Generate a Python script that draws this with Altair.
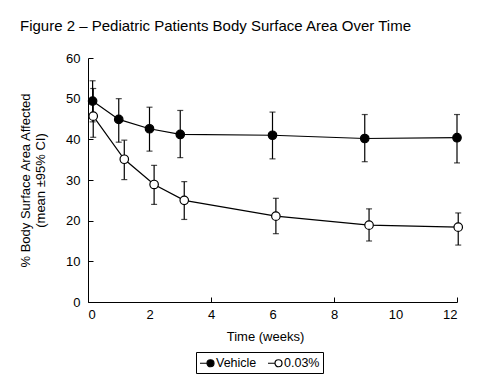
import altair as alt
import pandas as pd

series_names = ["Vehicle", "0.03%"]

weeks_vehicle = [0.15, 1.0, 2.0, 3.0, 6.0, 9.0, 12.0]
mean_vehicle = [49.4, 44.9, 42.6, 41.2, 41.0, 40.2, 40.4]
lo_vehicle = [44.3, 39.3, 37.1, 35.5, 35.2, 34.5, 34.2]
hi_vehicle = [54.4, 50.0, 47.9, 47.1, 46.7, 46.1, 46.1]

weeks_03 = [0.17, 1.18, 2.15, 3.13, 6.11, 9.14, 12.04]
mean_03 = [45.7, 35.1, 28.9, 25.0, 21.1, 18.9, 18.4]
lo_03 = [40.5, 30.1, 24.0, 20.3, 16.8, 15.0, 14.0]
hi_03 = [52.5, 39.8, 33.6, 29.6, 25.5, 22.9, 21.9]

x_label_values = [0, 2, 4, 6, 8, 10, 12]
x_tick_values = [0, 4, 8, 12]
y_values = [0, 10, 20, 30, 40, 50, 60]

rows = []
for name, w, m, lo, hi in [
    (series_names[0], weeks_vehicle, mean_vehicle, lo_vehicle, hi_vehicle),
    (series_names[1], weeks_03, mean_03, lo_03, hi_03),
]:
    for a, b, c, d in zip(w, m, lo, hi):
        rows.append({"week": a, "mean": b, "lo": c, "hi": d, "series": name})
df = pd.DataFrame(rows)

W, H = 369, 244
FONT = "Liberation Sans"

xs = alt.Scale(domain=[0, 12], nice=False, zero=False)
ys = alt.Scale(domain=[0, 60], nice=False)

base = alt.Chart(df)

lines = base.mark_line(color="black", strokeWidth=1.2).encode(
    x=alt.X("week:Q", scale=xs, title="Time (weeks)",
            axis=alt.Axis(orient="bottom", values=x_label_values, ticks=False,
                          grid=False, domainColor="black", labelColor="black",
                          labelFontSize=13, labelPadding=6, titleFontSize=13,
                          titleFontWeight="normal", titleColor="black",
                          titlePadding=9, titleX=177, labelFont=FONT, titleFont=FONT)),
    y=alt.Y("mean:Q", scale=ys,
            title=["% Body Surface Area Affected", "(mean \u00b195% CI)"],
            axis=alt.Axis(orient="left", values=y_values, ticks=False,
                          grid=False, domainColor="black", labelColor="black",
                          labelFontSize=13, labelPadding=8, titleFontSize=13,
                          titleFontWeight="normal", titleColor="black",
                          titlePadding=18, labelFont=FONT, titleFont=FONT,
                          titleLineHeight=15)),
    detail="series:N",
)

tick_axes = base.mark_point(opacity=0).encode(
    x=alt.X("week:Q", scale=xs,
            axis=alt.Axis(orient="top", values=x_tick_values, labels=False,
                          domain=False, grid=False, title=None, tickSize=5,
                          tickColor="black", offset=-H)),
    y=alt.Y("mean:Q", scale=ys,
            axis=alt.Axis(orient="right", values=y_values, labels=False,
                          domain=False, grid=False, title=None, tickSize=5,
                          tickColor="black", offset=-W)),
)

rules = base.mark_rule(color="black", strokeWidth=1.2).encode(
    x=alt.X("week:Q", scale=xs, axis=None),
    y=alt.Y("lo:Q", scale=ys, axis=None),
    y2="hi:Q",
)
caps_lo = base.mark_tick(color="black", thickness=1.2, size=6, orient="horizontal").encode(
    x=alt.X("week:Q", scale=xs, axis=None),
    y=alt.Y("lo:Q", scale=ys, axis=None),
)
caps_hi = base.mark_tick(color="black", thickness=1.2, size=6, orient="horizontal").encode(
    x=alt.X("week:Q", scale=xs, axis=None),
    y=alt.Y("hi:Q", scale=ys, axis=None),
)

legend_path = "M-1,0H0M0,0A0.5,0.5,0,1,1,1,0A0.5,0.5,0,1,1,0,0Z"

points = base.mark_point(filled=True, shape="circle", size=72, stroke="black",
                         strokeWidth=1.2, opacity=1).encode(
    x=alt.X("week:Q", scale=xs, axis=None),
    y=alt.Y("mean:Q", scale=ys, axis=None),
    fill=alt.Fill("series:N",
                  scale=alt.Scale(domain=series_names, range=["black", "white"]),
                  legend=alt.Legend(orient="none", legendX=108, legendY=294,
                                    direction="horizontal", title=None,
                                    strokeColor="black", padding=3,
                                    symbolType=legend_path, symbolSize=196,
                                    symbolStrokeColor="black", symbolStrokeWidth=1.2,
                                    labelFontSize=12.5, labelFont=FONT,
                                    labelColor="black", labelOffset=1,
                                    columnPadding=8)),
)

chart = alt.layer(lines, tick_axes, rules, caps_lo, caps_hi, points).resolve_axis(
    x="independent", y="independent"
).properties(
    width=W, height=H,
    autosize=alt.AutoSizeParams(type="none"),
    padding={"left": 80, "top": 50, "right": 15, "bottom": 80},
    title=alt.TitleParams("Figure 2 \u2013 Pediatric Patients Body Surface Area Over Time",
                          anchor="start", frame="group", dx=-68, offset=18,
                          fontSize=15, fontWeight="normal", font=FONT,
                          color="black"),
    background="white",
).configure_view(stroke=None)

chart.save("out.html", embed_options={"renderer": "svg", "actions": False})
